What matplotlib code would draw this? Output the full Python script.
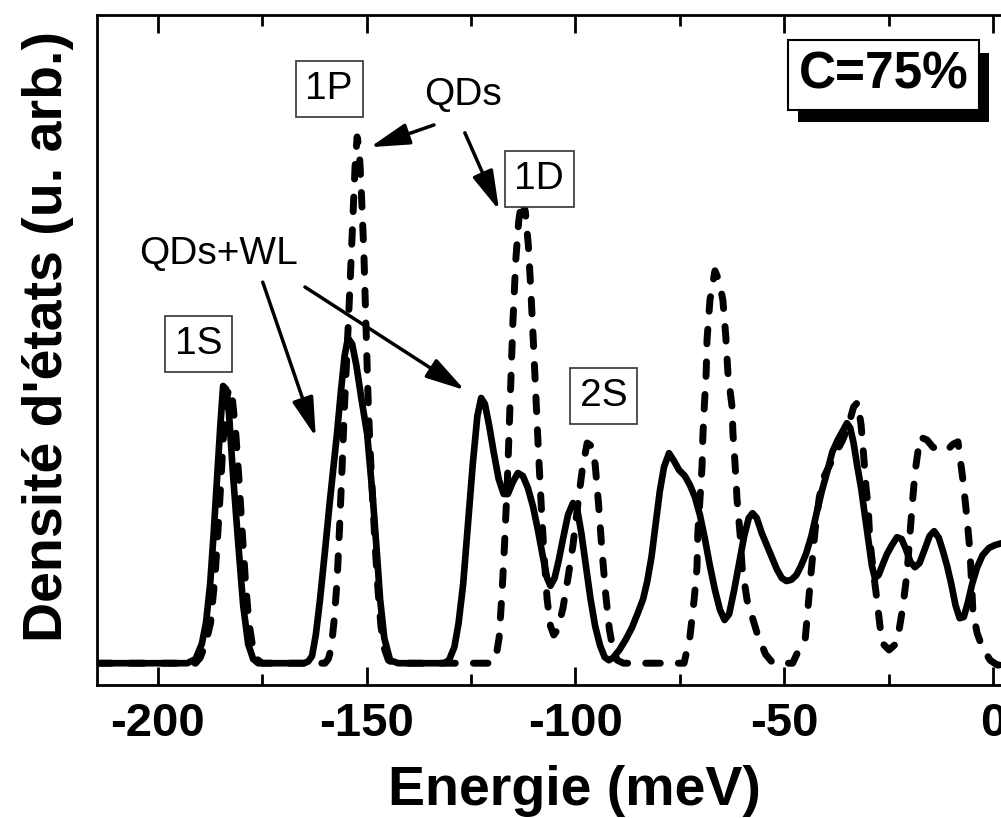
import matplotlib
matplotlib.use("Agg")
import matplotlib.pyplot as plt
import matplotlib.patheffects as pe
import numpy as np

plt.rcParams['font.family'] = ['Liberation Sans', 'DejaVu Sans']
plt.rcParams['axes.unicode_minus'] = False

# QDs+WL (solid), points: (energy meV, DOS arb.)
qds_wl = [
    (-214.6, 0.3), (-193.0, 0.3), (-191.0, 1.0), (-189.5, 3.5), (-188.5, 7.0), (-187.5, 13.5),
    (-186.7, 21.5), (-185.9, 30.5), (-185.1, 39.5), (-184.4, 46.5), (-183.7, 46.0), (-183.0, 42.0),
    (-182.0, 31.5), (-180.8, 20.5), (-179.6, 10.0), (-178.4, 3.5), (-177.2, 1.0), (-176.0, 0.3),
    (-165.0, 0.3), (-164.0, 0.6), (-163.1, 1.5), (-162.2, 5.0), (-161.2, 10.8), (-160.0, 19.0),
    (-158.8, 27.5), (-157.9, 33.5), (-157.1, 38.7), (-156.2, 45.5), (-155.3, 51.5), (-154.5, 54.5),
    (-153.5, 53.5), (-152.5, 50.0), (-151.3, 44.5), (-149.9, 38.5), (-148.5, 27.5), (-147.5, 18.0),
    (-146.8, 11.0), (-145.8, 4.5), (-144.4, 0.8), (-142.5, 0.3),
    (-131.5, 0.3), (-130.3, 0.8), (-129.0, 3.0), (-128.0, 7.0), (-126.9, 13.5), (-125.8, 23.0),
    (-124.6, 33.5), (-123.5, 41.5), (-122.6, 44.5), (-121.7, 43.5), (-120.7, 40.0), (-119.6, 35.5),
    (-118.4, 31.0), (-117.2, 28.5), (-116.2, 28.5), (-115.0, 30.5), (-113.8, 32.0), (-112.6, 31.5),
    (-111.4, 29.5), (-110.2, 26.5), (-109.0, 22.5), (-107.8, 18.0), (-106.8, 14.5), (-106.0, 13.2),
    (-105.0, 14.5), (-104.0, 17.5), (-103.0, 21.0), (-101.8, 25.0), (-100.6, 27.0), (-99.6, 26.0),
    (-98.6, 22.0), (-97.5, 16.5), (-96.4, 11.0), (-95.3, 6.5), (-94.1, 3.2), (-93.0, 1.3),
    (-92.0, 0.8), (-91.0, 1.2), (-89.5, 2.5), (-88.0, 4.2), (-86.5, 6.2), (-85.0, 8.8),
    (-83.8, 11.0), (-82.8, 14.0), (-81.8, 18.0), (-80.8, 23.5), (-79.8, 29.0), (-78.8, 33.0),
    (-77.6, 35.3), (-76.4, 34.0), (-75.2, 32.5), (-73.8, 31.5), (-72.6, 30.0), (-71.4, 28.0),
    (-70.2, 25.0), (-69.0, 21.0), (-67.8, 16.5), (-66.6, 12.5), (-65.4, 9.2), (-64.3, 7.5),
    (-63.2, 8.5), (-62.0, 12.5), (-60.8, 17.0), (-59.6, 21.5), (-58.5, 24.5), (-57.6, 25.3),
    (-56.6, 24.5), (-55.4, 22.0), (-54.2, 20.0), (-53.0, 18.0), (-51.8, 16.0), (-50.6, 14.5),
    (-49.5, 14.0), (-48.3, 14.2), (-47.1, 15.0), (-46.0, 16.5), (-44.8, 18.5), (-43.5, 21.5),
    (-42.2, 25.5), (-41.0, 29.0), (-39.8, 32.0), (-38.5, 35.5), (-37.2, 37.5), (-36.0, 39.0),
    (-35.0, 40.3), (-34.2, 39.5), (-33.4, 37.0), (-32.6, 33.5), (-31.6, 29.5), (-30.6, 24.5),
    (-29.8, 20.5), (-29.0, 16.5), (-28.3, 14.5), (-27.4, 15.0), (-26.4, 16.8), (-25.4, 18.5),
    (-24.2, 20.0), (-23.0, 21.3), (-21.9, 21.0), (-20.8, 19.2), (-19.8, 17.2), (-18.7, 16.3),
    (-17.6, 17.0), (-16.4, 19.2), (-15.2, 21.5), (-14.1, 22.3), (-13.0, 21.2), (-12.0, 19.0),
    (-11.0, 16.5), (-10.0, 13.5), (-9.0, 10.0), (-8.0, 7.8), (-7.0, 8.0), (-6.0, 10.5),
    (-5.0, 13.5), (-3.8, 16.3), (-2.5, 18.3), (-1.0, 19.5), (0.5, 20.0), (2.0, 20.3), (4.0, 20.5),
]

# QDs only (dashed)
qds = [
    (-214.6, 0.3), (-191.0, 0.3), (-189.9, 1.2), (-188.6, 3.5), (-187.4, 7.0), (-186.3, 15.0),
    (-185.3, 26.0), (-184.5, 36.0), (-183.8, 43.5), (-183.0, 46.2), (-182.2, 44.5), (-181.4, 39.0),
    (-180.6, 31.0), (-179.8, 22.0), (-179.0, 13.5), (-178.2, 7.0), (-177.3, 3.0), (-176.4, 1.0),
    (-175.0, 0.3),
    (-160.0, 0.3), (-159.2, 1.0), (-158.5, 2.8), (-157.8, 7.5), (-157.1, 14.0), (-156.5, 23.0),
    (-155.9, 33.0), (-155.3, 43.5), (-154.6, 54.0), (-153.9, 65.0), (-153.3, 75.0), (-152.8, 83.0),
    (-152.3, 88.0), (-151.8, 86.0), (-151.3, 79.0), (-150.7, 69.0), (-150.2, 57.0), (-149.7, 45.0),
    (-149.2, 36.0), (-148.6, 28.0), (-148.0, 20.0), (-147.3, 12.5), (-146.6, 6.5), (-145.8, 2.8),
    (-144.8, 0.8), (-143.5, 0.3),
    (-120.0, 0.3), (-119.0, 1.5), (-118.3, 4.5), (-117.6, 12.0), (-117.0, 20.0), (-116.3, 31.0),
    (-115.7, 43.0), (-115.0, 57.0), (-114.3, 67.5), (-113.6, 74.0), (-112.8, 77.8), (-112.0, 75.5),
    (-111.3, 70.0), (-110.7, 62.5), (-110.1, 54.0), (-109.5, 45.0), (-108.9, 36.0), (-108.2, 26.5),
    (-107.5, 18.0), (-106.8, 11.0), (-106.0, 6.5), (-105.2, 5.0), (-104.2, 6.0), (-103.0, 9.5),
    (-101.8, 14.5), (-100.6, 20.0), (-99.4, 27.0), (-98.3, 33.0), (-97.2, 37.0), (-96.2, 36.5),
    (-95.3, 33.5), (-94.5, 27.0), (-93.7, 19.5), (-92.8, 12.0), (-91.9, 6.0), (-91.0, 2.5),
    (-90.0, 0.8), (-88.5, 0.3),
    (-74.0, 0.3), (-72.6, 4.7), (-71.6, 10.8), (-70.9, 16.3), (-70.7, 22.0), (-70.2, 27.5),
    (-69.7, 33.0), (-69.5, 38.0), (-69.2, 42.5), (-68.7, 48.7), (-68.5, 54.2), (-67.8, 60.8),
    (-66.6, 65.7), (-65.6, 64.0), (-64.7, 60.8), (-64.0, 54.7), (-63.5, 48.7), (-62.5, 43.0),
    (-62.3, 38.7), (-61.8, 33.7), (-61.3, 27.5), (-60.6, 22.0), (-60.1, 16.3), (-58.9, 10.8),
    (-56.5, 5.3), (-54.5, 1.8), (-52.7, 0.3), (-48.0, 0.3),
    (-46.2, 3.0), (-45.0, 4.2), (-44.3, 9.7), (-43.5, 16.0), (-42.6, 22.5), (-41.6, 28.0),
    (-40.4, 31.5), (-39.0, 33.5), (-37.5, 35.5), (-36.0, 37.5), (-34.6, 40.0), (-33.4, 43.0),
    (-32.4, 43.8), (-31.6, 40.0), (-31.0, 35.0), (-30.4, 29.5), (-29.9, 26.3), (-29.5, 20.8),
    (-28.7, 15.8), (-27.8, 10.8), (-26.6, 3.7), (-24.9, 2.5), (-23.0, 3.7), (-21.6, 9.7),
    (-20.6, 15.3), (-19.4, 26.3), (-18.7, 32.0), (-17.5, 38.0), (-15.8, 37.5), (-14.4, 36.3),
    (-12.7, 35.8), (-11.0, 35.8), (-9.6, 36.8), (-8.4, 37.2), (-7.2, 30.8), (-6.2, 24.2),
    (-5.5, 18.7), (-4.8, 8.7), (-3.8, 5.3), (-2.6, 3.0), (-0.7, 0.8), (1.0, 0.0), (5.0, 0.0),
]

peak_labels = ['1S', '1P', '1D', '2S']
peak_label_pos = [(-190.2, 53.5), (-159.0, 96.0), (-108.7, 81.0), (-93.2, 44.8)]

# text position, then arrows (start, tip)
qds_text = (-126.9, 95.0)
qds_arrows = [((-133.9, 90.0), (-149.2, 86.3)), ((-126.5, 88.7), (-118.3, 75.8))]
wl_text = (-185.6, 68.5)
wl_arrows = [((-174.9, 63.8), (-162.2, 38.0)), ((-164.8, 63.0), (-126.5, 45.8))]

fig = plt.figure(figsize=(10.01, 8.18), dpi=100)
ax = fig.add_axes([0.0969, 0.1626, 0.916, 0.8191])

dx, dy = np.array(qds).T
sx, sy = np.array(qds_wl).T
ax.plot(dx, dy, color='k', lw=5.0, linestyle=(0, (2.1, 2.6)), dash_capstyle='round')
ax.plot(sx, sy, color='k', lw=4.8, solid_joinstyle='round')

ax.set_xlim(-214.6, 5.0)
ax.set_ylim(-3.33, 108.33)
ax.set_xticks([-200, -150, -100, -50, 0])
ax.set_xticks(np.arange(-200, 1, 25), minor=True)
ax.set_yticks([])
ax.tick_params(axis='x', which='both', direction='in', top=True, bottom=True, width=2)
ax.tick_params(axis='x', which='major', length=13, labelsize=34, pad=12)
ax.tick_params(axis='x', which='minor', length=8)
for lbl in ax.get_xticklabels():
    lbl.set_fontweight('bold')
for sp in ax.spines.values():
    sp.set_linewidth(2)

ax.set_xlabel('Energie (meV)', fontsize=40, fontweight='bold')
ax.xaxis.set_label_coords(0.521, -0.119)
ax.set_ylabel("Densité d'états (u. arb.)", fontsize=40, fontweight='bold')
ax.yaxis.set_label_coords(-0.025, 0.52)

for txt, (x, y) in zip(peak_labels, peak_label_pos):
    ax.text(x, y, txt, fontsize=28, ha='center', va='center',
            bbox=dict(boxstyle='square,pad=0.25', fc='white', ec='#333333', lw=1.2))

arrow_kw = dict(arrowstyle='-|>,head_length=0.8,head_width=0.22', lw=2.5, color='k',
                mutation_scale=30, shrinkA=0, shrinkB=0)
ax.text(*qds_text, 'QDs', fontsize=28, ha='center', va='center')
for start, tip in qds_arrows:
    ax.annotate('', xy=tip, xytext=start, arrowprops=arrow_kw)
ax.text(*wl_text, 'QDs+WL', fontsize=28, ha='center', va='center')
for start, tip in wl_arrows:
    ax.annotate('', xy=tip, xytext=start, arrowprops=arrow_kw)

t = ax.text(-26.2, 98.3, 'C=75%', fontsize=37, fontweight='bold', ha='center', va='center',
            bbox=dict(boxstyle='square,pad=0.2', fc='white', ec='k', lw=1.5))
t.get_bbox_patch().set_path_effects([
    pe.SimplePatchShadow(offset=(7, -9), shadow_rgbFace='k', alpha=1.0), pe.Normal()])

fig.savefig('out.png', dpi=100)
